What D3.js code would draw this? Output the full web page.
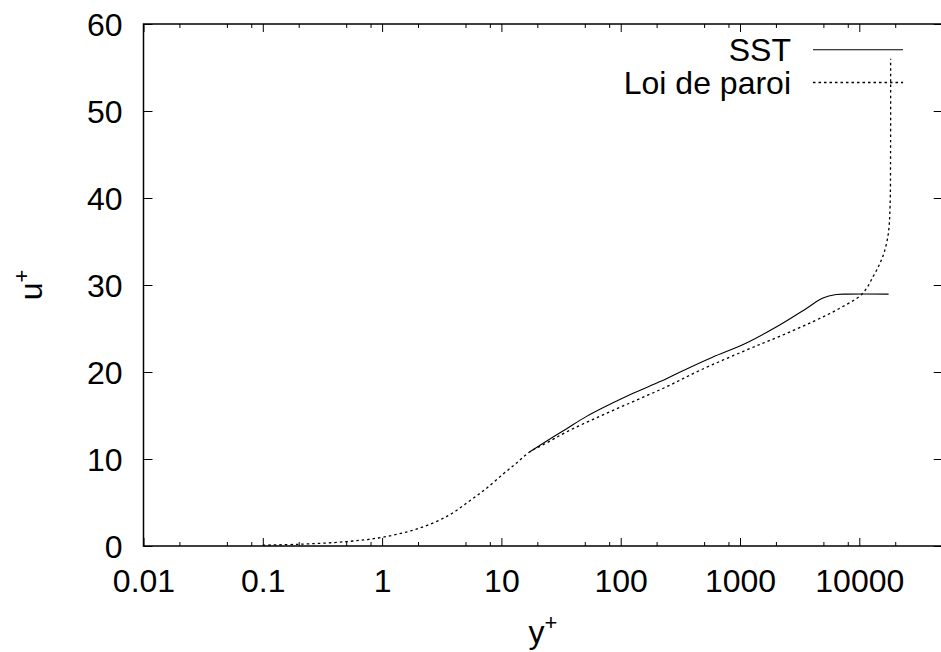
<!DOCTYPE html>
<html>
<head>
<meta charset="utf-8">
<script src="https://cdn.jsdelivr.net/npm/d3@7"></script>
<style>
  html, body { margin: 0; padding: 0; background: #fff; }
  svg { display: block; font-family: "Liberation Sans", Arial, sans-serif; }
</style>
</head>
<body>
<svg id="chart" width="941" height="652"></svg>
<script>
// ---- data ----
const xTicks = [0.01, 0.1, 1, 10, 100, 1000, 10000];
const xTickLabels = ["0.01", "0.1", "1", "10", "100", "1000", "10000"];
const minorMantissas = [2, 5, 8];
const yTicks = [0, 10, 20, 30, 40, 50, 60];
const yTickLabels = ["0", "10", "20", "30", "40", "50", "60"];

const seriesNames = ["SST", "Loi de paroi"];

// SST (solid)
const sstYplus = [17.2, 25.5, 35, 51.8, 127, 214, 350, 588, 1120, 2150, 3600, 4950, 6400, 8000, 17600];
const sstUplus = [10.8, 12.3, 13.45, 14.9, 17.55, 18.9, 20.3, 21.7, 23.3, 25.4, 27.3, 28.5, 28.9, 28.95, 28.95];

// Loi de paroi (dotted)
const loiYplus = [0.1, 0.2, 0.5, 1, 2, 3.6, 5.3, 7.3, 10.4, 13.3, 17.2, 23.6, 35, 66.5, 127, 242, 463, 1120, 2150, 4100, 6800, 10600, 13100, 14900, 16200, 17500, 18100, 18280, 18300];
const loiUplus = [0.1, 0.2, 0.5, 1.0, 2.0, 3.5, 5.1, 6.5, 8.3, 9.5, 10.8, 11.8, 13.1, 14.9, 16.6, 18.3, 20.2, 22.5, 24.1, 25.8, 27.3, 29.0, 31.0, 32.5, 33.8, 35.9, 39.0, 45.1, 56.0];

// ---- layout ----
const mLeft = 143.5, mRight = 942.7, mTop = 24, mBottom = 546;
const svg = d3.select("#chart");
const x = d3.scaleLog().domain([0.01, 50000]).range([mLeft, mRight]);
const y = d3.scaleLinear().domain([0, 60]).range([mBottom, mTop]);

const minorTicks = [];
for (let e = -2; e <= 4; e++) {
  minorMantissas.forEach(m => { const v = m * Math.pow(10, e); if (v < 50000) minorTicks.push(v); });
}

const fontSize = 32;

function styleAxis(g) {
  g.select(".domain").remove();
  g.selectAll(".tick line").attr("stroke", "#000").attr("stroke-width", 1);
}
// bottom major
const gxB = svg.append("g").attr("transform", `translate(0,${mBottom})`)
  .call(d3.axisBottom(x).tickValues(xTicks).tickSize(-8).tickFormat((d, i) => xTickLabels[i]));
styleAxis(gxB);
gxB.selectAll(".tick text").attr("y", 46).attr("dy", null)
  .attr("font-size", fontSize).attr("font-family", "Liberation Sans, Arial, sans-serif").attr("fill", "#000");
// bottom minor
const gxBm = svg.append("g").attr("transform", `translate(0,${mBottom})`)
  .call(d3.axisBottom(x).tickValues(minorTicks).tickSize(-4).tickFormat(""));
styleAxis(gxBm);
// top major + minor
const gxT = svg.append("g").attr("transform", `translate(0,${mTop})`)
  .call(d3.axisTop(x).tickValues(xTicks).tickSize(-8).tickFormat(""));
styleAxis(gxT);
const gxTm = svg.append("g").attr("transform", `translate(0,${mTop})`)
  .call(d3.axisTop(x).tickValues(minorTicks).tickSize(-4).tickFormat(""));
styleAxis(gxTm);
// left
const gyL = svg.append("g").attr("transform", `translate(${mLeft},0)`)
  .call(d3.axisLeft(y).tickValues(yTicks).tickSize(-9).tickFormat((d, i) => yTickLabels[i]));
styleAxis(gyL);
gyL.selectAll(".tick text").attr("x", -21).attr("dy", "0.36em")
  .attr("font-size", fontSize).attr("font-family", "Liberation Sans, Arial, sans-serif").attr("fill", "#000");
// right
const gyR = svg.append("g").attr("transform", `translate(${mRight},0)`)
  .call(d3.axisRight(y).tickValues(yTicks).tickSize(-9).tickFormat(""));
styleAxis(gyR);

// frame
svg.append("rect").attr("x", mLeft).attr("y", mTop).attr("width", mRight - mLeft).attr("height", mBottom - mTop)
  .attr("fill", "none").attr("stroke", "#000").attr("stroke-width", 1.5);

// lines
const line = d3.line().x(d => x(d[0])).y(d => y(d[1])).curve(d3.curveCatmullRom.alpha(0.5));
const sstData = sstYplus.map((v, i) => [v, sstUplus[i]]);
const loiData = loiYplus.map((v, i) => [v, loiUplus[i]]);

svg.append("path").datum(sstData).attr("d", line)
  .attr("fill", "none").attr("stroke", "#000").attr("stroke-width", 1.1);
svg.append("path").datum(loiData).attr("d", line)
  .attr("fill", "none").attr("stroke", "#000").attr("stroke-width", 1.3).attr("stroke-dasharray", "2.5,3");

// legend
const legend = svg.append("g");
const legY = [49.7, 82.5];
const legDash = [null, "2.5,3"];
seriesNames.forEach((name, i) => {
  legend.append("text").attr("x", 791).attr("y", legY[i]).attr("dy", "0.36em")
    .attr("text-anchor", "end").attr("font-size", fontSize).attr("fill", "#000").text(name);
  legend.append("line").attr("x1", 813).attr("x2", 903).attr("y1", legY[i]).attr("y2", legY[i])
    .attr("stroke", "#000").attr("stroke-width", i ? 1.3 : 1.1).attr("stroke-dasharray", legDash[i]);
});

// axis titles
const xt = svg.append("text").attr("x", 543).attr("y", 643).attr("text-anchor", "middle")
  .attr("font-size", fontSize).attr("fill", "#000");
xt.append("tspan").text("y");
xt.append("tspan").attr("dy", -13).attr("font-size", 22).text("+");

const yt = svg.append("text").attr("transform", "translate(42,285) rotate(-90)").attr("text-anchor", "middle")
  .attr("font-size", fontSize).attr("fill", "#000");
yt.append("tspan").text("u");
yt.append("tspan").attr("dy", -13).attr("font-size", 22).text("+");
</script>
</body>
</html>
